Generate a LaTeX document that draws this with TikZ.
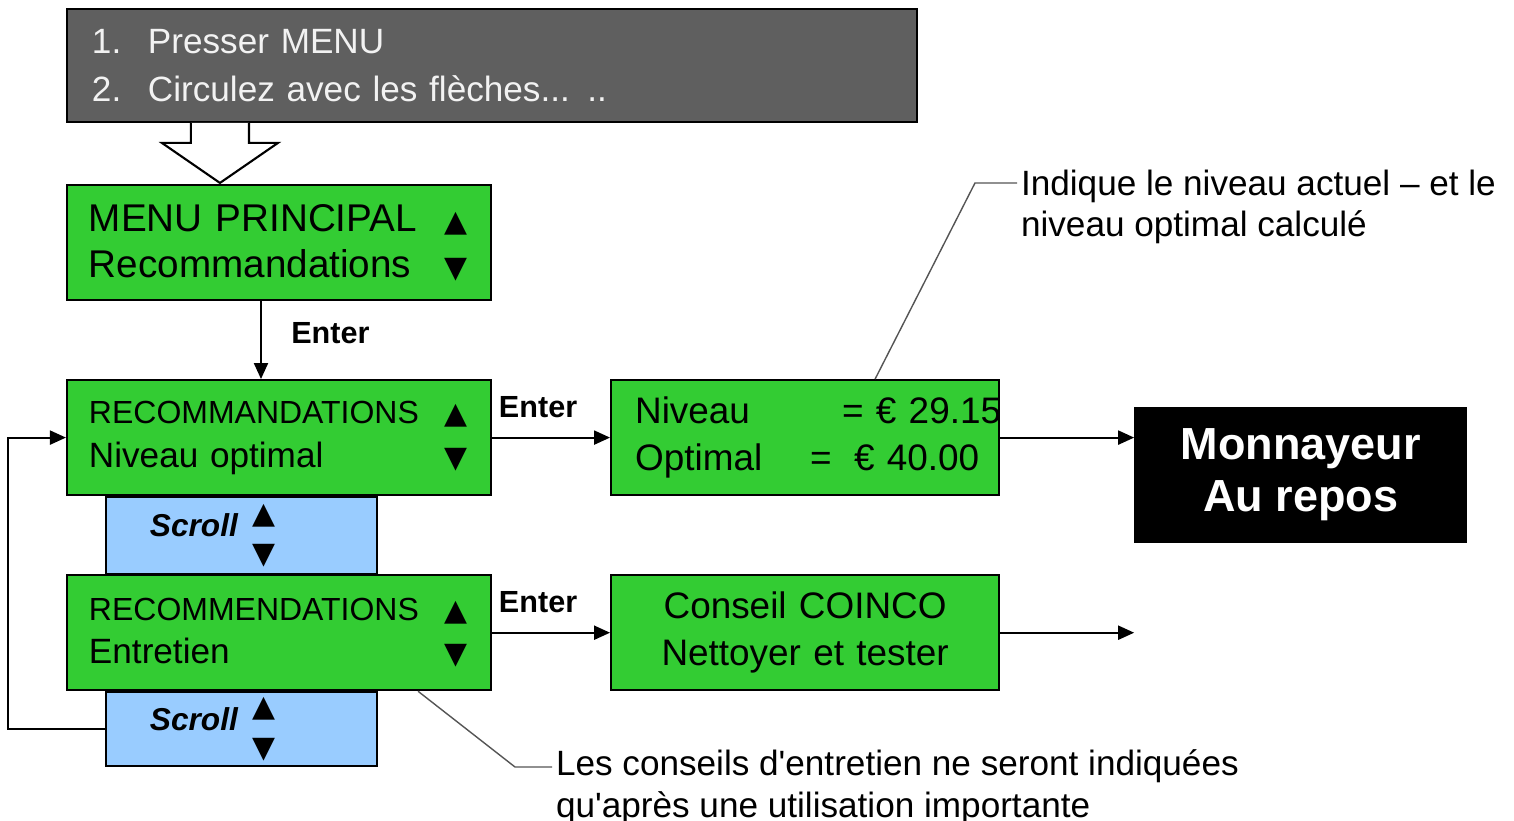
\documentclass[tikz,border=0pt]{standalone}
\usepackage{fontspec}
\setmainfont{Liberation Sans}
\newfontfamily\symfont{DejaVu Sans}
\usetikzlibrary{positioning,arrows.meta}
\definecolor{lcdgreen}{HTML}{33CC33}
\definecolor{scrollblue}{HTML}{99CCFF}
\definecolor{panelgray}{HTML}{5F5F5F}
\definecolor{leadgray}{HTML}{555555}
\newcommand{\arrup}{{\symfont\fontsize{8.5}{8.5}\selectfont ▲}}
\newcommand{\arrdn}{{\symfont\fontsize{8.5}{8.5}\selectfont ▼}}
\newcommand{\lcdrow}[2]{\makebox[3.56cm][l]{#1}#2}
\newcommand{\capsz}{\fontsize{9.1}{12.5}\selectfont}
\begin{document}
\begin{tikzpicture}[
		> = {Triangle[length=1.6mm,width=1.4mm]}, % arrow head style
		semithick, % line style
		font=\fontsize{10}{12.5}\selectfont,
		lcd/.style={draw, fill=lcdgreen, text width=3.80cm, inner xsep=0.22cm, inner ysep=0pt, minimum height=1.15cm, align=left},
		lcdwide/.style={lcd, text width=3.40cm, inner xsep=0.24cm, font=\fontsize{10.5}{13.3}\selectfont},
		panel/.style={draw, fill=panelgray, text=white!95!black, text width=8.00cm, inner xsep=0.25cm, inner ysep=0pt, minimum height=1.13cm, align=left, font=\fontsize{10}{13.7}\selectfont},
		scrollbox/.style={draw, fill=scrollblue, text width=1.83cm, inner xsep=0.44cm, inner ysep=0pt, align=left},
		blackbox/.style={draw, fill=black, text=white, minimum width=3.31cm, minimum height=1.34cm, align=center, font=\bfseries\fontsize{12.8}{14.8}\selectfont},
		enterlbl/.style={font=\bfseries\fontsize{8.7}{10}\selectfont},
		note/.style={align=left, inner xsep=0.03cm, inner ysep=0pt, font=\fontsize{10}{11.7}\selectfont},
		leader/.style={thin, leadgray}
		]
		
		\useasboundingbox (0,0) rectangle (15.14,-8.21);
		
		\node[lcd, font=\fontsize{11}{13.1}\selectfont] (menu) at (2.79,-2.425) {\lcdrow{MENU PRINCIPAL}{\arrup}\\\lcdrow{Recommandations}{\arrdn}};
		\node[panel] (steps) [above=0.61cm of menu.north west, anchor=south west] {\makebox[0.56cm][l]{1.}Presser MENU\\\makebox[0.56cm][l]{2.}Circulez avec les flèches... ..};
		\node[lcd] (rec1) [below=0.78cm of menu] {\lcdrow{\capsz RECOMMANDATIONS}{\arrup}\\\lcdrow{Niveau optimal}{\arrdn}};
		\node[lcd] (rec2) [below=0.78cm of rec1] {\lcdrow{\capsz RECOMMENDATIONS}{\arrup}\\\lcdrow{Entretien}{\arrdn}};
		\node[scrollbox, minimum height=0.77cm] (scr1) [below=0pt of rec1.south west, anchor=north west, xshift=0.39cm] {\raisebox{0.27cm}{\bfseries\itshape\fontsize{9}{10}\selectfont Scroll}\hspace{0.15cm}\shortstack{\arrup\\[2pt]\arrdn}};
		\node[scrollbox, minimum height=0.74cm] (scr2) [below=0pt of rec2.south west, anchor=north west, xshift=0.39cm] {\raisebox{0.27cm}{\bfseries\itshape\fontsize{9}{10}\selectfont Scroll}\hspace{0.15cm}\shortstack{\arrup\\[2pt]\arrdn}};
		\node[lcdwide] (niv) [right=1.18cm of rec1] {\makebox[3.40cm][l]{\makebox[2.07cm][l]{Niveau}= € 29.15}\\\makebox[3.40cm][l]{\makebox[1.75cm][l]{Optimal}\makebox[0.44cm][l]{=}€ 40.00}};
		\node[lcdwide, align=center] (cons) [right=1.18cm of rec2] {Conseil COINCO\\Nettoyer et tester};
		\node[blackbox] (mon) [right=1.34cm of niv, yshift=-0.375cm] {Monnayeur\\Au repos};
		\coordinate[right=1.34cm of cons] (out);
		
		% callouts
		\node[note, anchor=north west] (n1) at (10.17,-1.69) {Indique le niveau actuel – et le\\niveau optimal calculé};
		\node[note, anchor=north west] (n2) at (5.52,-7.49) {Les conseils d\textquotesingle entretien ne seront indiquées\\qu\textquotesingle après une utilisation importante};
		\coordinate (k1) at (9.75,-1.83);
		\coordinate (k2) at (5.15,-7.67);
		\draw[leader] ([xshift=0.7cm]niv.north) -- (k1) -- (k1 -| n1.west);
		\draw[leader] ([xshift=-0.74cm]rec2.south east) -- (k2) -- (k2 -| n2.west);
		
		% hollow arrow
		\draw[fill=white] ([xshift=1.25cm]steps.south west) -- ++(0,-0.2) -- ++(-0.29,0) -- ++(0.58,-0.4) -- ++(0.58,0.4) -- ++(-0.29,0) -- ++(0,0.2);
		
		\path[->]
		([xshift=-0.18cm]menu.south) edge node[enterlbl, right=5pt, pos=0.41] {Enter} ([xshift=-0.18cm]rec1.north)
		(rec1) edge node[enterlbl, above=2pt, pos=0.39] {Enter} (niv)
		(rec2) edge node[enterlbl, above=2pt, pos=0.39] {Enter} (cons)
		(niv.east) edge (niv.east -| mon.west)
		(cons) edge (out);
		
		\draw[->] (scr2.west) -- ++(-0.97,0) |- (rec1.west);
		
	\end{tikzpicture}
\end{document}
